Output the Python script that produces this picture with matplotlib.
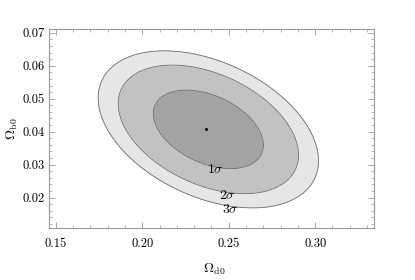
import numpy as np
import matplotlib
matplotlib.use("Agg")
import matplotlib.pyplot as plt
from matplotlib.ticker import MultipleLocator

# Best-fit point and Gaussian approximation of the likelihood
best_fit = [0.2369, 0.0408]        # (Omega_d0, Omega_b0)
center = [0.2382, 0.0407]
sigma_x = 0.0210
sigma_y = 0.00785
rho = -0.40
# Delta chi^2 levels for 1, 2, 3 sigma contours
levels = [2.30, 6.17, 9.21]
level_labels = [r"$1\sigma$", r"$2\sigma$", r"$3\sigma$"]
label_pos_x = [0.2426, 0.2490, 0.2508]
label_pos_y = [0.0284, 0.0206, 0.0164]
fills = ["#a3a3a3", "#c2c2c2", "#e6e6e6"]

xlim = (0.146, 0.334)
ylim = (0.0108, 0.0712)
xticks = [0.15, 0.20, 0.25, 0.30]
yticks = [0.02, 0.03, 0.04, 0.05, 0.06, 0.07]

plt.rcParams["font.family"] = "cmr10"
plt.rcParams["mathtext.fontset"] = "cm"
plt.rcParams["axes.formatter.use_mathtext"] = True

fig = plt.figure(figsize=(4.15, 2.8), dpi=100)
ax = fig.add_axes([0.118, 0.186, 0.783, 0.711])

x = np.linspace(xlim[0], xlim[1], 600)
y = np.linspace(ylim[0], ylim[1], 600)
X, Y = np.meshgrid(x, y)
dx = (X - center[0]) / sigma_x
dy = (Y - center[1]) / sigma_y
chi2 = (dx**2 - 2 * rho * dx * dy + dy**2) / (1 - rho**2)

ax.contourf(X, Y, chi2, levels=[0] + levels, colors=fills)
ax.contour(X, Y, chi2, levels=levels, colors="#6e6e6e", linewidths=0.6)
ax.plot(best_fit[0], best_fit[1], "o", color="black", markersize=1.2)

for lab, lx, ly in zip(level_labels, label_pos_x, label_pos_y):
    ax.text(lx, ly, lab, ha="center", va="center", fontsize=10)

ax.set_xlim(*xlim)
ax.set_ylim(*ylim)
ax.set_xticks(xticks)
ax.set_yticks(yticks)
ax.set_xticklabels(["0.15", "0.20", "0.25", "0.30"])
ax.set_yticklabels(["0.02", "0.03", "0.04", "0.05", "0.06", "0.07"])
ax.xaxis.set_minor_locator(MultipleLocator(0.01))
ax.yaxis.set_minor_locator(MultipleLocator(0.002))
ax.tick_params(which="both", direction="in", top=True, right=True, color="#999999", labelsize=9)
ax.tick_params(which="major", length=4, width=0.6)
ax.tick_params(which="minor", length=2, width=0.5)
ax.tick_params(axis="x", which="major", pad=7)
ax.tick_params(axis="y", which="major", pad=3)
for s in ax.spines.values():
    s.set_color("#999999")
    s.set_linewidth(0.8)

ax.set_xlabel(r"$\Omega_{\rm d0}$", fontsize=10, va="center")
ax.set_ylabel(r"$\Omega_{\rm b0}$", fontsize=10, va="center")
ax.xaxis.set_label_coords(0.51, -0.21)
ax.yaxis.set_label_coords(-0.113, 0.5)

fig.savefig("out.png", dpi=100)
